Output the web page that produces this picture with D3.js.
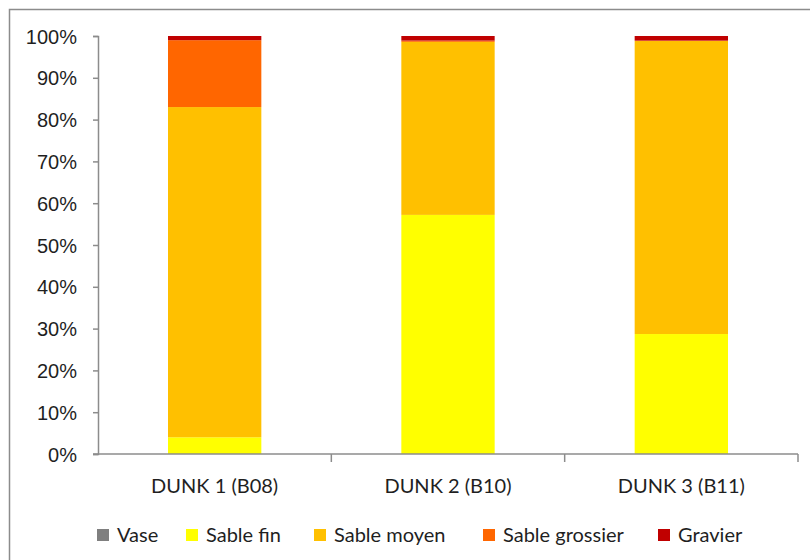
<!DOCTYPE html>
<html>
<head>
<meta charset="utf-8">
<script src="https://cdn.jsdelivr.net/npm/d3@7"></script>
<style>
  html, body { margin: 0; padding: 0; background: #fff; }
  svg { display: block; font-family: Lato, "Noto Sans", sans-serif; }
</style>
</head>
<body>
<svg id="chart" width="810" height="560"></svg>
<script>
// Granulometry of three sediment samples, stacked to 100%
const categories = ["DUNK 1 (B08)", "DUNK 2 (B10)", "DUNK 3 (B11)"];
const seriesNames = ["Vase", "Sable fin", "Sable moyen", "Sable grossier", "Gravier"];
const vase          = [0, 0, 0];
const sableFin      = [4.0, 57.2, 28.7];
const sableMoyen    = [79.0, 41.4, 70.1];
const sableGrossier = [16.0, 0.3, 0.1];
const gravier       = [1.0, 1.1, 1.1];
const yTicks = [0, 10, 20, 30, 40, 50, 60, 70, 80, 90, 100];
const colors = ["#7f7f7f", "#ffff00", "#ffc000", "#ff6600", "#c00000"];

const seriesValues = [vase, sableFin, sableMoyen, sableGrossier, gravier];
const rows = categories.map((c, i) => {
  const r = { cat: c };
  seriesNames.forEach((s, k) => { r[s] = seriesValues[k][i]; });
  return r;
});

const svg = d3.select("#chart");
const textColor = "#1f1f1f";

// outer chart frame
svg.append("rect")
  .attr("x", 9.5).attr("y", 9.5)
  .attr("width", 820).attr("height", 580)
  .attr("fill", "none").attr("stroke", "#8c8c8c").attr("stroke-width", 1.5);

const plot = { left: 98, right: 798, top: 36, bottom: 454 };

const x = d3.scaleBand()
  .domain(categories)
  .range([plot.left, plot.right])
  .paddingInner(0.6)
  .paddingOuter(0.3);

const y = d3.scaleLinear()
  .domain([0, 100])
  .range([plot.bottom, plot.top]);

const stack = d3.stack().keys(seriesNames);
const layers = stack(rows);

svg.append("g")
  .selectAll("g")
  .data(layers)
  .join("g")
  .attr("fill", (d, i) => colors[i])
  .selectAll("rect")
  .data(d => d)
  .join("rect")
  .attr("x", d => x(d.data.cat))
  .attr("width", x.bandwidth())
  .attr("y", d => y(d[1]))
  .attr("height", d => Math.max(0, y(d[0]) - y(d[1])));

// y axis
const yAxis = svg.append("g")
  .attr("transform", `translate(${plot.left},0)`)
  .call(d3.axisLeft(y).tickValues(yTicks).tickFormat(d => d + "%").tickSize(5).tickPadding(16));
yAxis.select(".domain").attr("stroke", "#8c8c8c").attr("stroke-width", 1.5);
yAxis.selectAll(".tick line").attr("stroke", "#8c8c8c").attr("stroke-width", 1.5);
yAxis.selectAll(".tick text")
  .attr("fill", textColor)
  .style("font-size", "20px")
  .attr("dy", "0.35em");

// x axis with ticks on category boundaries
const xAxisG = svg.append("g")
  .attr("transform", `translate(0,${plot.bottom})`);
xAxisG.append("line")
  .attr("x1", plot.left - 5).attr("x2", plot.right)
  .attr("stroke", "#8c8c8c").attr("stroke-width", 1.5);
const step = x.step();
const bounds = d3.range(categories.length + 1).map(i => plot.left + i * step);
xAxisG.selectAll("line.bound")
  .data(bounds.slice(1))
  .join("line")
  .attr("class", "bound")
  .attr("x1", d => d).attr("x2", d => d)
  .attr("y1", 0).attr("y2", 8)
  .attr("stroke", "#8c8c8c").attr("stroke-width", 1.5);
xAxisG.selectAll("text")
  .data(categories)
  .join("text")
  .attr("x", d => x(d) + x.bandwidth() / 2)
  .attr("y", 39)
  .attr("text-anchor", "middle")
  .attr("fill", textColor)
  .style("font-size", "20px")
  .text(d => d);

// legend
const legendX = [97, 186, 314, 483, 658];
const legend = svg.append("g");
const items = legend.selectAll("g")
  .data(seriesNames)
  .join("g")
  .attr("transform", (d, i) => `translate(${legendX[i]},529)`);
items.append("rect")
  .attr("width", 12).attr("height", 12)
  .attr("fill", (d, i) => colors[i]);
items.append("text")
  .attr("x", 20).attr("y", 13)
  .attr("fill", textColor)
  .style("font-size", "20px")
  .text(d => d);
</script>
</body>
</html>
